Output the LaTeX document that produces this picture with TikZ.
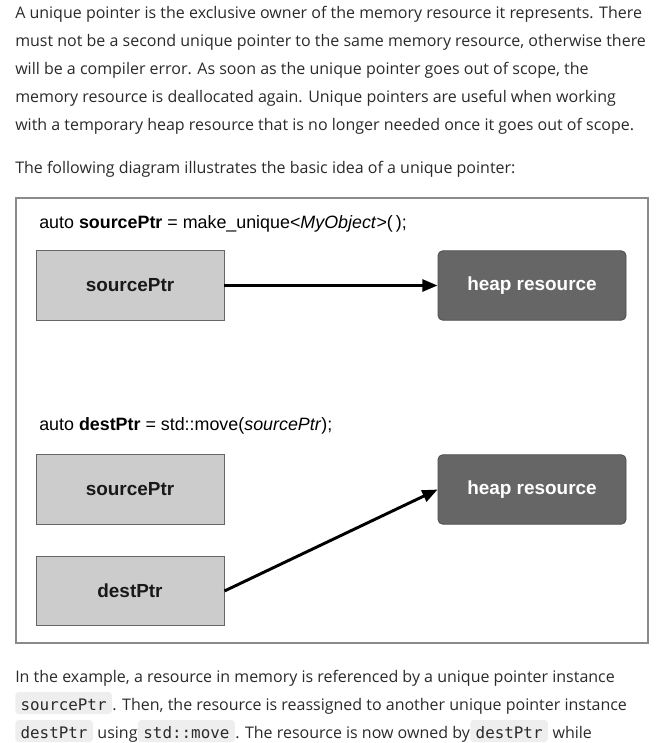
\documentclass[tikz,border=0pt]{standalone}
\usepackage{fontspec}
\usepackage{tikz}
\usetikzlibrary{positioning,arrows.meta}
\newfontfamily\bodyfont{Open Sans}
\newfontfamily\diagfont{Liberation Sans}
\newfontfamily\codefont{DejaVu Sans Mono}
\definecolor{bodytext}{HTML}{2A2A2A}
\definecolor{codebg}{HTML}{EEEEEE}
\definecolor{frameline}{HTML}{8A8A8A}
\definecolor{ptrfill}{HTML}{CCCCCC}
\definecolor{ptrline}{HTML}{666666}
\definecolor{heapfill}{HTML}{666666}
\definecolor{heapline}{HTML}{4A4A4A}

\begin{document}
\begin{tikzpicture}
[x=0.75pt,y=-0.75pt,>={Triangle[length=11.5pt,width=9pt]},
txt/.style={anchor=base west,inner sep=0pt,text=bodytext,font=\bodyfont\fontsize{12pt}{14pt}\selectfont},
code/.style={fill=codebg,rounded corners=2.5pt,text=bodytext,inner xsep=4pt,inner ysep=3pt,text height=10.5pt,text depth=0pt,font=\codefont\fontsize{11.9pt}{14pt}\selectfont},
stmt/.style={anchor=base west,inner sep=0pt,text=black,font=\diagfont\fontsize{13.4pt}{16pt}\selectfont},
ptrbox/.style={draw=ptrline,fill=ptrfill,line width=0.6pt,minimum width=141pt,minimum height=52pt,text=black!90,font=\diagfont\bfseries\fontsize{14.2pt}{17pt}\selectfont},
heapbox/.style={ptrbox,draw=heapline,fill=heapfill,rounded corners=3.5pt,text=white},
link/.style={->,line width=2.2pt,black},]

\useasboundingbox (0,0) rectangle (667,743);

%Paragraph above
\node[txt] (p1) at (15,18) {A unique pointer is the exclusive owner of the memory resource it represents. There};
\node[txt] (p2) at (15,46) {must not be a second unique pointer to the same memory resource, otherwise there};
\node[txt] (p3) at (15,74) {will be a compiler error. As soon as the unique pointer goes out of scope, the};
\node[txt] (p4) at (15,102) {memory resource is deallocated again. Unique pointers are useful when working};
\node[txt] (p5) at (15,130) {with a temporary heap resource that is no longer needed once it goes out of scope.};
\node[txt] (p6) at (15,173) {The following diagram illustrates the basic idea of a unique pointer:};

%Frame of the diagram
\draw[frameline,line width=0.8pt] (16,198) rectangle (648,643);

%First step: make_unique
\node[stmt] (makeLine) at (39,228) {auto \textbf{sourcePtr} = make\_unique<\textit{MyObject}>(\,);};
\node[ptrbox] (srcOne) at (130,285.5) {sourcePtr};
\node[heapbox] (heapOne) at (532,285.5) {heap resource};
\draw[link] (srcOne) -- (heapOne);

%Second step: std::move
\node[stmt] (moveLine) at (39,430) {auto \textbf{destPtr} = std::move(\textit{sourcePtr});};
\node[ptrbox] (srcTwo) at (130,489.5) {sourcePtr};
\node[heapbox] (heapTwo) at (532,489.5) {heap resource};
\node[ptrbox] (dest) at (130,591) {destPtr};
\draw[link] (dest.east) -- (heapTwo.west);

%Paragraph below
\node[txt] (q1) at (15,682) {In the example, a resource in memory is referenced by a unique pointer instance};
\node[code,anchor=base west] (srcCode) at (15,710) {sourcePtr};
\node[txt,base right=0pt of srcCode] (q2) {. Then, the resource is reassigned to another unique pointer instance};
\node[code,anchor=base west] (destCode) at (15,738) {destPtr};
\node[txt,base right=0pt of destCode] (q3a) {\ using\ };
\node[code,base right=0pt of q3a] (moveCode) {std::move};
\node[txt,base right=0pt of moveCode] (q3b) {. The resource is now owned by\ };
\node[code,base right=0pt of q3b] (destCodeB) {destPtr};
\node[txt,base right=0pt of destCodeB] (q3c) {\ while};

\end{tikzpicture}
\end{document}
